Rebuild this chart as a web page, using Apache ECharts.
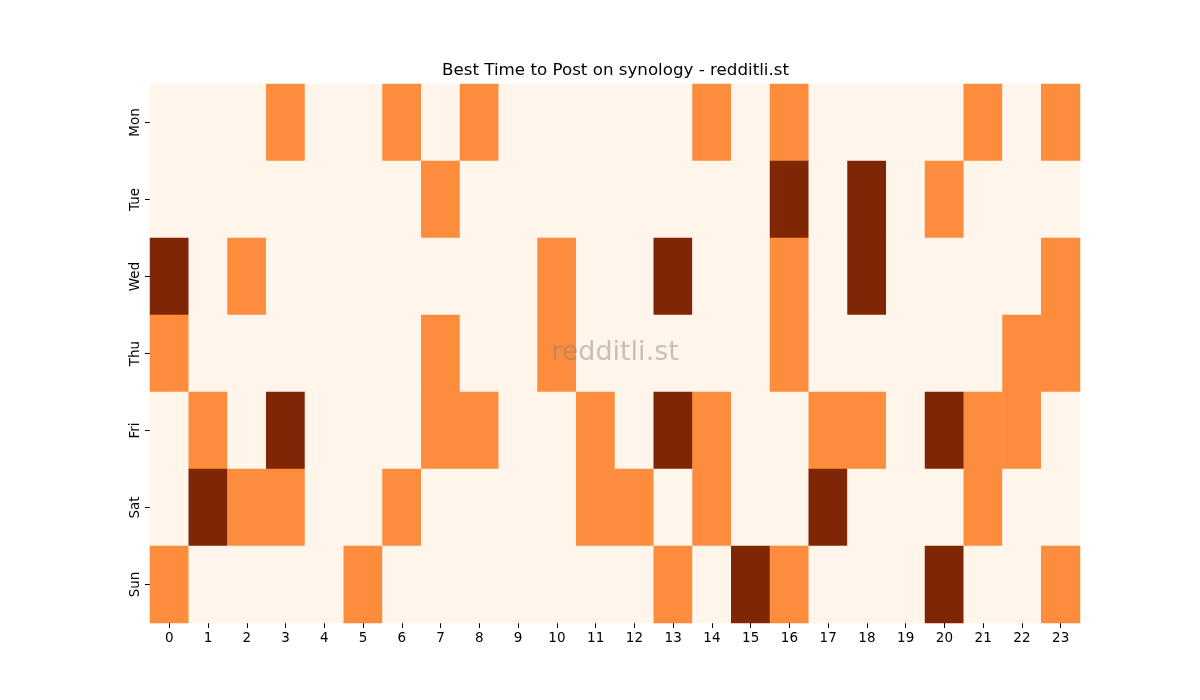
<!DOCTYPE html>
<html>
<head>
<meta charset="utf-8">
<script src="https://cdn.jsdelivr.net/npm/echarts@6/dist/echarts.min.js"></script>
<style>
  html, body { margin: 0; padding: 0; background: #fff; }
  #chart { width: 1200px; height: 700px; }
</style>
</head>
<body>
<div id="chart"></div>
<script>
var chart = echarts.init(document.getElementById('chart'));

// hours along x, days down y
var hours = ['0','1','2','3','4','5','6','7','8','9','10','11','12','13','14','15','16','17','18','19','20','21','22','23'];
var days = ['Mon', 'Tue', 'Wed', 'Thu', 'Fri', 'Sat', 'Sun'];

// 0 = quiet, 1 = good, 2 = best
var mon = [0,0,0,1,0,0,1,0,1,0,0,0,0,0,1,0,1,0,0,0,0,1,0,1];
var tue = [0,0,0,0,0,0,0,1,0,0,0,0,0,0,0,0,2,0,2,0,1,0,0,0];
var wed = [2,0,1,0,0,0,0,0,0,0,1,0,0,2,0,0,1,0,2,0,0,0,0,1];
var thu = [1,0,0,0,0,0,0,1,0,0,1,0,0,0,0,0,1,0,0,0,0,0,1,1];
var fri = [0,1,0,2,0,0,0,1,1,0,0,1,0,2,1,0,0,1,1,0,2,1,1,0];
var sat = [0,2,1,1,0,0,1,0,0,0,0,1,1,0,1,0,0,2,0,0,0,1,0,0];
var sun = [1,0,0,0,0,1,0,0,0,0,0,0,0,1,0,2,1,0,0,0,2,0,0,1];

var rows = [mon, tue, wed, thu, fri, sat, sun];
var cells = [];
rows.forEach(function (row, d) {
  row.forEach(function (v, h) {
    cells.push([h, d, v]);
  });
});

var font = 'DejaVu Sans';

chart.setOption({
  animation: false,
  backgroundColor: '#ffffff',
  title: {
    text: 'Best Time to Post on synology - redditli.st',
    left: 437,
    top: 57,
    textStyle: { fontFamily: font, fontSize: 16.7, fontWeight: 'normal', color: '#000' }
  },
  grid: { left: 150, right: 120, top: 84, bottom: 77 },
  xAxis: {
    type: 'category',
    data: hours,
    axisLine: { show: false },
    axisTick: { show: true, alignWithLabel: true, length: 5, lineStyle: { color: '#000' } },
    axisLabel: { fontFamily: font, fontSize: 13.5, color: '#000', margin: 8, interval: 0 },
    splitLine: { show: false }
  },
  yAxis: {
    type: 'category',
    data: days,
    inverse: true,
    axisLine: { show: false },
    axisTick: { show: true, alignWithLabel: true, length: 5, lineStyle: { color: '#000' } },
    axisLabel: { fontFamily: font, fontSize: 13.5, color: '#000', rotate: 90, margin: 8 },
    splitLine: { show: false }
  },
  visualMap: {
    show: false,
    type: 'piecewise',
    dimension: 2,
    pieces: [
      { value: 0, color: '#fff5eb' },
      { value: 1, color: '#fd8d3c' },
      { value: 2, color: '#7f2704' }
    ]
  },
  graphic: [{
    type: 'text',
    x: 615,
    y: 353,
    style: {
      text: 'redditli.st',
      fontFamily: font,
      fontSize: 27,
      fill: 'rgba(128,128,128,0.45)',
      align: 'center',
      verticalAlign: 'middle'
    },
    z: 100
  }],
  series: [{
    type: 'heatmap',
    data: cells,
    itemStyle: { borderWidth: 0 },
    emphasis: { disabled: true }
  }]
});
</script>
</body>
</html>
